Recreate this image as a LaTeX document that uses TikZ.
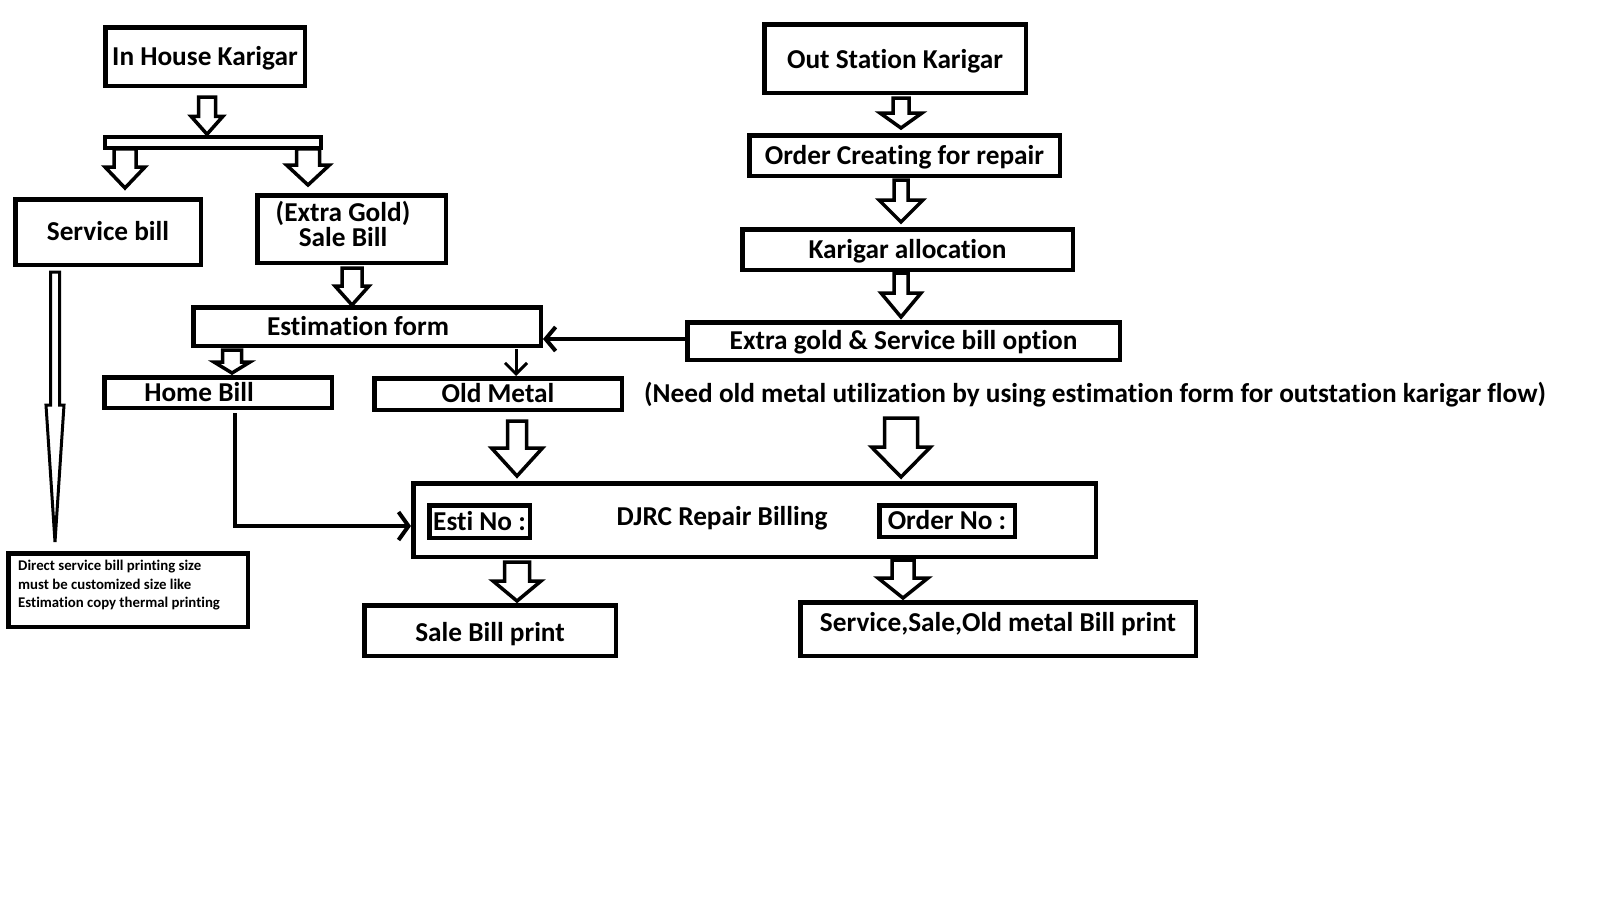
\documentclass[tikz,border=0pt]{standalone}
\usepackage{fontspec}
\setmainfont{Carlito}[Ligatures={NoCommon}]
\usetikzlibrary{arrows.meta,calc}
\begin{document}
\begin{tikzpicture}[x=1pt,y=-1pt]
\tikzset{
  boxst/.style={draw, line width=4.5pt, inner sep=0pt, align=center,
    text height=17.6pt, text depth=0pt,
    font=\bfseries\fontsize{27.3}{27}\selectfont},
  txt/.style={inner sep=0pt, text height=17.6pt, text depth=0pt,
    font=\bfseries\fontsize{27.3}{27}\selectfont},
  multitxt/.style={inner sep=0pt, align=center, font=\bfseries\fontsize{27.3}{22}\selectfont},
  notetxt/.style={inner sep=0pt, align=left, font=\bfseries\fontsize{14.8}{18.5}\selectfont},
  blk/.style={draw, line width=3.5pt, line join=miter, fill=white},
  conn/.style={line width=4pt, -{Straight Barb[length=10pt,width=24pt]}},
}
% box: [opts]{name}{x1}{y1}{x2}{y2}{text}
\newcommand\mybox[7][]{\node[boxst,#1,minimum width={#5-#3-4.5},minimum height={#6-#4-4.5}] (#2) at ({(#3+#5)/2},{(#4+#6)/2}) {#7};}
% block arrow: [opts]{from}{to}{x}{top gap}{tip gap}{half shaft}{half head}{head length}
\newcommand\barrow[9][]{\draw[blk,#1] let \p1=(#2.south), \p2=(#3.north) in
  (#4pt-#7pt,\y1-#5pt) -- (#4pt+#7pt,\y1-#5pt) -- (#4pt+#7pt,\y2+#6pt+#9pt) -- (#4pt+#8pt,\y2+#6pt+#9pt)
  -- (#4pt,\y2+#6pt) -- (#4pt-#8pt,\y2+#6pt+#9pt) -- (#4pt-#7pt,\y2+#6pt+#9pt) -- cycle;}

\useasboundingbox[fill=white] (0,0) rectangle (1600,900);

% left column
\mybox{inhouse}{103}{25}{307}{88}{In House Karigar}
\mybox[line width=4pt,text height=0pt]{bar}{103}{135}{323}{150}{}
\mybox{servicebill}{13}{197}{203}{267}{Service bill}
\mybox{extragold}{255}{193}{448}{265}{}
\node[multitxt] (extragoldtext) at (343,224) {(Extra Gold)\\Sale Bill};
\mybox{estimation}{191}{305}{543}{348}{\hspace*{-18pt}Estimation form}
\mybox{homebill}{102}{375}{334}{410}{\hspace*{-38pt}Home Bill}
\mybox{oldmetal}{372}{376}{624}{412}{Old Metal}
\mybox{note}{6}{551}{250}{629}{}
\node[notetxt, anchor=north west] (notetext) at (18,560) {Direct service bill printing size\\must be customized size like\\Estimation copy thermal printing};

% billing
\mybox{djrc}{411}{481}{1098}{559}{}
\node[txt] (djrctext) at (722,517) {DJRC Repair Billing};
\mybox{estino}{427}{503}{532}{540}{Esti No :}
\mybox{orderno}{877}{503}{1017}{539}{Order No :}
\mybox{salebill}{362}{603}{618}{658}{\raisebox{-2.5pt}{Sale Bill print}}
\mybox{servicesale}{798}{600}{1198}{658}{\raisebox{6pt}{Service,Sale,Old metal Bill print}}

% right column
\mybox{outstation}{762}{22}{1028}{95}{\raisebox{-1.5pt}{Out Station Karigar}}
\mybox{ordercreate}{747}{133}{1062}{178}{Order Creating for repair}
\mybox{karigar}{740}{227}{1075}{272}{Karigar allocation}
\mybox{option}{685}{320}{1122}{362}{Extra gold \& Service bill option}
\node[txt, anchor=west] (needtext) at (644,394) {(Need old metal utilization by using estimation form for outstation karigar flow)};

% block arrows
\barrow{inhouse}{bar}{207}{9}{1}{8.5}{16}{18}
\barrow{bar}{servicebill}{125}{-1}{9}{11}{20}{21}
\barrow{bar}{extragold}{308}{-1}{8}{11.5}{21.5}{20}
\barrow{extragold}{estimation}{352}{3}{0}{10}{17}{19}
\barrow{estimation}{homebill}{232}{2}{2}{9.5}{18}{11}
\barrow{oldmetal}{djrc}{517}{9}{5}{9.5}{25.5}{28}
\barrow{option}{djrc}{901}{56}{4}{16.5}{29.5}{30}
\barrow{djrc}{salebill}{517}{3}{2}{12.5}{24}{20}
\barrow{djrc}{servicesale}{903}{1}{2}{11}{25}{20}
\barrow{outstation}{ordercreate}{901}{3}{5}{8}{21}{15}
\barrow{ordercreate}{karigar}{901}{2}{5}{7}{22}{22}
\barrow{karigar}{option}{901}{1}{3}{7}{20}{24}
\barrow[line width=3pt]{servicebill}{note}{55}{5}{9}{4.5}{9}{137}

% line connectors
\draw[conn] (option.west |- 0,339) -- (estimation.east |- 0,339);
\draw[conn,line width=3pt,-{Straight Barb[length=11pt,width=22pt]}] ($(estimation.south -| 516,0)+(0,1)$) -- (oldmetal.north -| 516,0);
\draw[conn,-{Straight Barb[length=10pt,width=28pt]}] ($(homebill.south -| 235,0)+(0,3)$) |- (djrc.west |- 0,526);
\end{tikzpicture}
\end{document}
